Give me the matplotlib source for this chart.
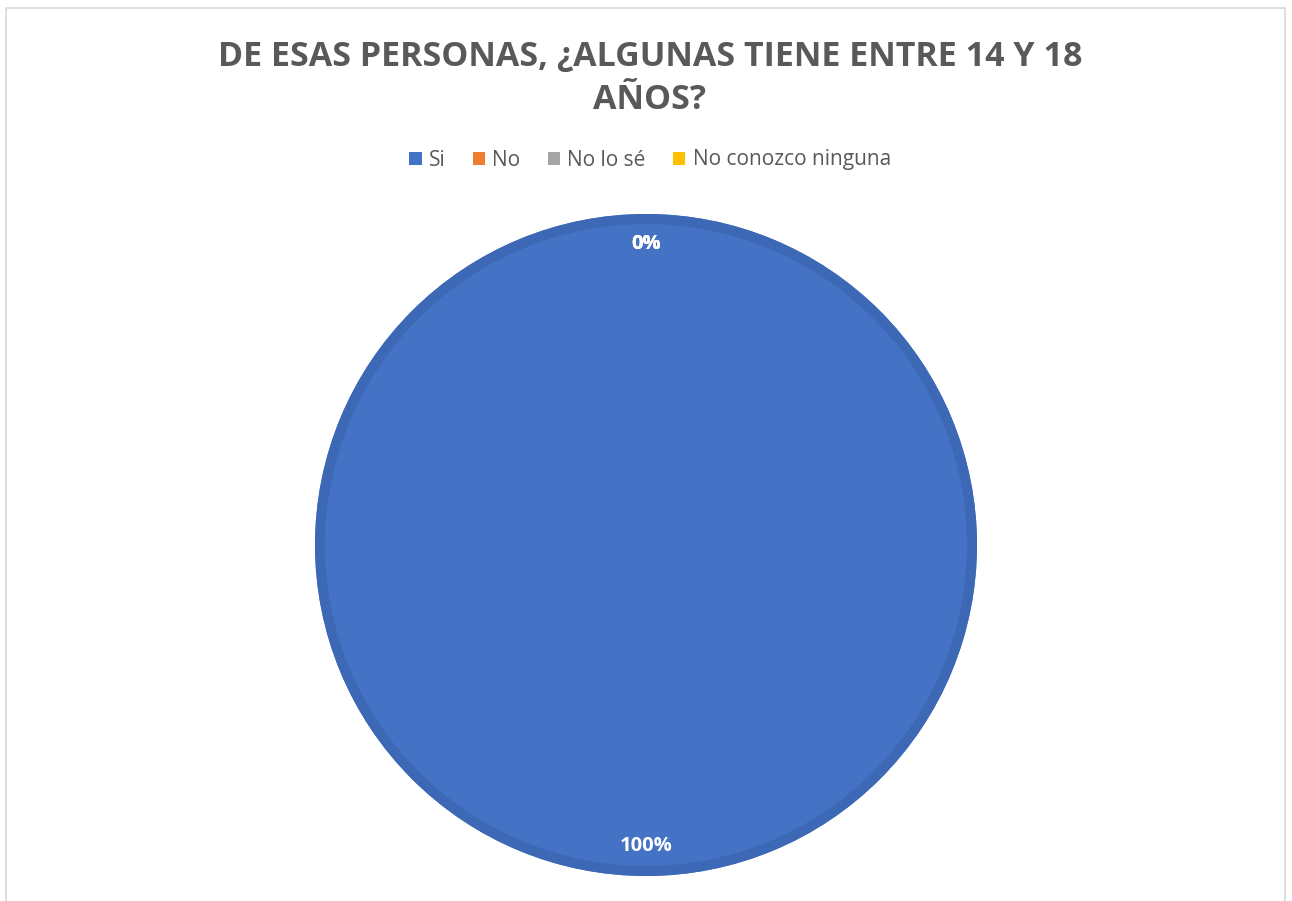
import matplotlib
matplotlib.use("Agg")
import matplotlib.pyplot as plt
from matplotlib.patches import Rectangle, Circle, Patch

title = "DE ESAS PERSONAS, ¿ALGUNAS TIENE ENTRE 14 Y 18\nAÑOS?"
categories = ["Si", "No", "No lo sé", "No conozco ninguna"]
values = [100, 0, 0, 0]
colors = ["#4472C4", "#ED7D31", "#A5A5A5", "#FFC000"]

W, H = 1292, 901
fig = plt.figure(figsize=(W / 100, H / 100), dpi=100)
fig.patch.set_facecolor("white")

# chart border
fig.add_artist(Rectangle((6 / W, -0.05), (1285 - 6) / W, 1.05 - 8 / H,
                         transform=fig.transFigure, fill=False,
                         edgecolor="#D9D9D9", linewidth=1.2))

cx, cy, r = 646, H - 545, 331
ax = fig.add_axes([(cx - r) / W, (cy - r) / H, 2 * r / W, 2 * r / H])
wedges, texts, autotexts = ax.pie(
    values, colors=colors, startangle=90, counterclock=False,
    autopct=lambda p: f"{p:.0f}%", pctdistance=0.91,
    wedgeprops=dict(linewidth=0),
    textprops=dict(color="white", fontsize=14.5, fontweight="bold", family="Open Sans"))
ax.set_xlim(-1, 1)
ax.set_ylim(-1, 1)
ax.set_aspect("equal")
ax.axis("off")

# darker rim on the main slice
w0 = wedges[0]
band = 10 / r
ax.add_patch(Circle(w0.center, w0.r - band / 2, fill=False,
                    edgecolor="#3D68B5", linewidth=10 * 0.72))

fig.text(650 / W, 1 - 78 / H, title, ha="center", va="center",
         fontsize=24.5, fontweight="bold", color="#595959",
         family="Open Sans", linespacing=1.35)

handles = [Patch(facecolor=c, edgecolor="none") for c in colors]
fig.legend(handles, categories, loc="center", bbox_to_anchor=(650 / W, 1 - 160 / H),
           ncol=4, frameon=False, handlelength=0.6, handleheight=0.6,
           handletextpad=0.35, columnspacing=1.3,
           prop=dict(family="Open Sans", size=15), labelcolor="#595959")

fig.savefig("out.png", dpi=100, facecolor="white")
